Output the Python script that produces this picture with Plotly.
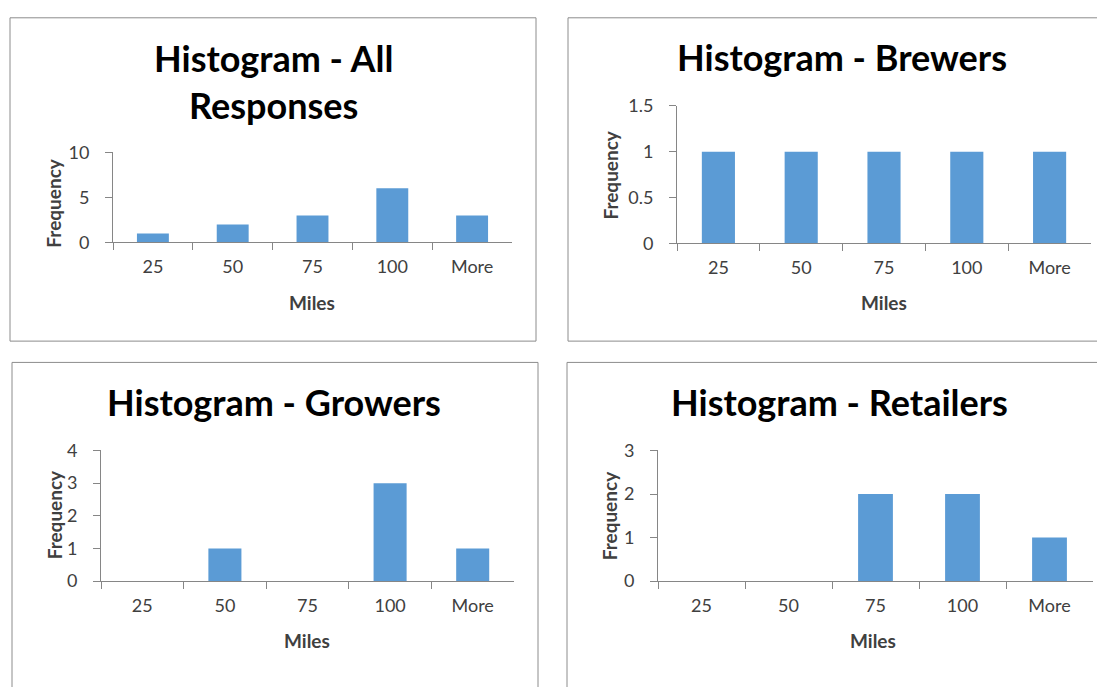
import plotly.graph_objects as go

# Histogram bins (miles) and counts for each respondent group
bins = ["25", "50", "75", "100", "More"]
all_responses = [1, 2, 3, 6, 3]
brewers = [1, 1, 1, 1, 1]
growers = [0, 1, 0, 3, 1]
retailers = [0, 0, 2, 2, 1]

titles = ["Histogram - All<br>Responses", "Histogram - Brewers",
          "Histogram - Growers", "Histogram - Retailers"]
series = [all_responses, brewers, growers, retailers]
y_ranges = [(0, 10, 5), (0, 1.5, 0.5), (0, 4, 1), (0, 3, 1)]

W, H = 1097, 687
BAR = "#5B9BD5"
AXIS = "#868686"
TXT = "#404040"
FONT = "Lato"


def px(x):
    return x / W


def py(y):
    return 1 - y / H


# pixel layout of each chart: plot area (x0, x1, ytop, ybottom),
# frame (x0, y0, x1, y1), title centre, axis-title positions
panels = [
    dict(area=(113, 512, 145, 238), frame=(10, 6, 536, 340),
         title=(273, 72), ytitle=(54, 198), xtitle=(312, 300)),
    dict(area=(677, 1091, 97, 239), frame=(568, 6, 1110, 340),
         title=(842, 47), ytitle=(611, 169), xtitle=(884, 300)),
    dict(area=(101, 514, 453, 588), frame=(12, 362, 538, 700),
         title=(274, 403), ytitle=(54, 520), xtitle=(307, 649)),
    dict(area=(658, 1093, 453, 588), frame=(567, 362, 1110, 700),
         title=(839, 403), ytitle=(609, 521), xtitle=(873, 649)),
]

fig = go.Figure()
shapes = []
annotations = []

for i, (p, vals, ttl, (y0, y1, dt)) in enumerate(zip(panels, series, titles, y_ranges)):
    n = "" if i == 0 else str(i + 1)
    fig.add_trace(go.Bar(
        x=bins, y=vals, width=0.4, marker=dict(color=BAR, line=dict(width=0)),
        xaxis="x" + n, yaxis="y" + n, showlegend=False, hoverinfo="x+y",
    ))
    ax0, ax1, at, ab = p["area"]
    fig.update_layout(**{
        "xaxis" + n: dict(
            domain=[px(ax0), px(ax1)], anchor="y" + n, type="category",
            range=[-0.5, 4.5], showline=True, linecolor=AXIS, linewidth=1,
            ticks="outside", tickson="boundaries", ticklen=7, tickcolor=AXIS,
            showgrid=False, zeroline=False, ticklabelstandoff=8,
            tickfont=dict(family=FONT, size=18, color=TXT), fixedrange=True,
        ),
        "yaxis" + n: dict(
            domain=[py(ab), py(at)], anchor="x" + n, range=[y0, y1], dtick=dt,
            showline=True, linecolor=AXIS, linewidth=1, ticks="outside",
            ticklen=7, tickcolor=AXIS, showgrid=False, zeroline=False,
            ticklabelstandoff=12,
            tickfont=dict(family=FONT, size=18, color=TXT), fixedrange=True,
        ),
    })
    fx0, fy0, fx1, fy1 = p["frame"]
    shapes.append(dict(type="rect", xref="paper", yref="paper",
                       x0=px(fx0), x1=px(fx1), y0=py(fy1), y1=py(fy0),
                       line=dict(color="#8C8C8C", width=1), layer="below"))
    tx, ty = p["title"]
    annotations.append(dict(text="<b>" + ttl + "</b>", xref="paper", yref="paper",
                            x=px(tx), y=py(ty), showarrow=False,
                            xanchor="center", yanchor="middle",
                            font=dict(family=FONT, size=36, color="#000000")))
    yx, yy = p["ytitle"]
    annotations.append(dict(text="<b>Frequency</b>", xref="paper", yref="paper",
                            x=px(yx), y=py(yy), showarrow=False, textangle=-90,
                            xanchor="center", yanchor="middle",
                            font=dict(family=FONT, size=19, color=TXT)))
    mx, my = p["xtitle"]
    annotations.append(dict(text="<b>Miles</b>", xref="paper", yref="paper",
                            x=px(mx), y=py(my), showarrow=False,
                            xanchor="center", yanchor="middle",
                            font=dict(family=FONT, size=19, color=TXT)))

fig.update_layout(
    width=W, height=H, margin=dict(l=0, r=0, t=0, b=0),
    paper_bgcolor="white", plot_bgcolor="white",
    shapes=shapes, annotations=annotations, bargap=0.6,
)

fig.write_html("out.html", config={"displayModeBar": False})
